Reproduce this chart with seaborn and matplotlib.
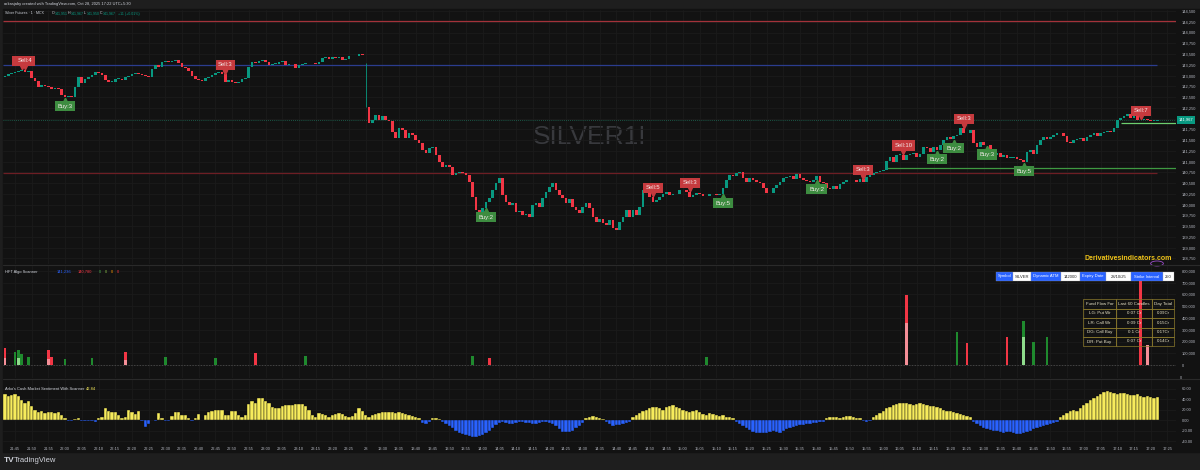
import matplotlib
matplotlib.use("Agg")
import matplotlib.pyplot as plt
import matplotlib.transforms as mtransforms
import numpy as np
import pandas as pd
import seaborn as sns

sns.set_theme(style="dark")
plt.rcParams["font.family"] = ["Liberation Sans", "DejaVu Sans"]

W, H = 1200, 470
BG = "#121212"
FRAME = "#1e1e1e"
TXT = "#b2b5be"
UP = "#089981"
DOWN = "#f23645"

# ---- data ----
day1_close = [
    142990, 143035, 143060, 143080, 143105, 143130, 143080, 143105, 142945, 142875,
    142735, 142780, 142755, 142735, 142690, 142710, 142690, 142550, 142500, 142525,
    142500, 142735, 142965, 142825, 142920, 142965, 143015, 143080, 143060, 143015,
    142895, 142850, 142850, 142920, 142920, 142895, 142965, 142990, 143035, 143060,
    143035, 143015, 142990, 142965, 143150, 143245, 143200, 143315, 143340, 143315,
    143340, 143360, 143290, 143200, 143180, 143105, 142990, 142920, 142895, 142875,
    142945, 142965, 143015, 143060, 143080, 143035, 142850, 142895, 142850, 142825,
    142840, 142920, 142945, 143200, 143315, 143290, 143340, 143360, 143315, 143245,
    143270, 143280, 143315, 143340, 143245, 143270, 143260, 143175, 143245, 143270,
    143290, 143285, 143290, 143270, 143315, 143410, 143430, 143385, 143430, 143410,
    143430, 143360, 143385, 143455, 143445, 143455, 143500, 143475,
]
day2_close = [
    142280,
    141900, 141965, 142085, 141965, 142060, 141965, 141945, 141690, 141550, 141780,
    141735, 141550, 141665, 141620, 141505, 141435, 141270, 141200, 141315, 141340,
    141155, 140990, 140875, 140920, 140875, 140690, 140735, 140760, 140735, 140690,
    140525, 140180, 139875, 139805, 139925, 140065, 140155, 140340, 140505, 140620,
    140225, 140065, 139995, 140040, 139830, 139855, 139760, 139785, 139715, 139995,
    140040, 139945, 140155, 140295, 140410, 140505, 140340, 140225, 140155, 140040,
    140130, 139945, 139875, 139805, 139945, 140040, 139925, 139715, 139600, 139670,
    139575, 139530, 139645, 139460, 139410, 139600, 139715, 139875, 139715, 139875,
    139760, 139945, 140340, 140295, 140180, 140065, 140110, 140180, 140250, 140295,
    140225, 140250, 140240, 140340, 140335, 140295, 140180, 140225, 140270, 140250,
    140200, 140205, 140250, 140245, 140225, 140250, 140390, 140575, 140690, 140665,
    140735, 140760, 140620, 140525,
    140620, 140575, 140525, 140505, 140390, 140270, 140280, 140390, 140455, 140525,
    140620, 140645, 140665, 140595, 140715, 140620, 140575, 140550, 140525, 140575,
    140665, 140525, 140505, 140390, 140365, 140435, 140365, 140480, 140525, 140575,
    140570, 140580, 140525, 140595, 140525, 140645, 140690, 140735, 140760, 140785,
    140805, 141015, 141110, 140990, 141155, 141160, 141040, 141155, 141180, 141200,
    141110, 141180, 141340, 141315, 141225, 141340, 141270, 141385, 141505, 141570,
    141525, 141595, 141620, 141780, 141665, 141660, 141735, 141435, 141340, 141455,
    141385, 141380, 141270, 141155, 141200, 141110, 141155, 141085, 141090, 141110,
    141060, 141040, 140990, 141225, 141270, 141180, 141385, 141505, 141570, 141525,
    141570, 141620, 141665, 141670, 141595, 141455, 141435, 141505, 141525, 141550,
    141480, 141570, 141620, 141665, 141595, 141665, 141690, 141710, 141690, 141780,
    141965, 142015, 142060, 142105, 142015, 142060, 141965, 141970, 141990, 141965,
    141945, 141950, 141967,
]
first_open = 142975
gap_open = 142265
gap_high = 143290
last_price = 141967

sentiment = [
    50, 46, 47, 49, 46, 39, 33, 37, 27, 19,
    15, 17, 14, 15, 15, 13, 15, 9, 4, -1,
    -1, 1, 4, -1, -1, -1, -1, -3, 3, 6,
    22, 17, 15, 15, 9, 4, 6, 19, 15, 11,
    17, -1, -13, -7, 0.5, -2, 14, 4, -1, -2,
    8, 16, 16, 9, 9, 4, -1, 4, 11, 0.5,
    9, 15, 18, 20, 20, 20, 9, 9, 17, 18,
    9, 6, 9, 30, 37, 33, 41, 42, 37, 33,
    25, 22, 22, 27, 28, 28, 28, 30, 31, 30,
    27, 20, 9, 6, 14, 11, 9, 6, 9, 12,
    14, 11, 8, 6, 8, 13, 23, 17, 9, 6,
    9, 12, 14, 16, 15, 16, 15, 14,
    15, 13, 12, 10, 8, 6, 3,
    -5, -8, -4,
    4, 3, 2,
    -4, -8, -12, -16, -20, -24, -27, -29, -31, -32, -32, -30, -28, -24, -20, -15, -10,
    -6, -4, -5, -7, -8, -6, -4, -3, -5, -6, -8, -7, -5, -4, -3, -5, -8,
    -12, -18, -22, -23, -22, -20, -16, -12, -6,
    3, 5, 8, 6, 4, 2,
    -4, -8, -11, -10, -9, -7, -5, -3,
    5, 10, 14, 18, 20, 22, 24, 25, 22, 20, 24, 26, 28, 25, 22, 20, 18, 15, 18, 20,
    16, 12, 10, 14, 12, 10, 8, 9, 6, 5, 3,
    -4, -8, -12, -16, -19, -22, -24, -25, -25, -24, -22, -20, -22, -24, -21, -18, -16, -14,
    -12, -10, -9, -8, -7, -6, -5, -4, -3,
    3, 5, 6, 5, 4, 6, 8, 7, 5, 4, 3,
    -2, -3, -2,
    6, 10, 14, 18, 22, 25, 28, 30, 32, 33, 32, 30, 29, 31, 33, 30, 28, 26, 27, 25,
    22, 20, 18, 17, 15, 14, 12, 10, 8, 5,
    -4, -8, -12, -15, -17, -19, -20, -21, -22, -24, -23, -22, -24, -26, -27, -25, -22, -20,
    -18, -16, -14, -12, -10, -8, -5, -3,
    5, 10, 14, 18, 20, 18, 22, 28, 33, 38, 42, 46, 50, 53, 55, 54, 52, 50, 52, 51,
    49, 47, 48, 50, 46, 44, 45, 44, 42, 43,
]
sentiment_last = "42.84"

# volume scanner bars: bar index, total height, lighter lower part, side
vol_bar = [0, 3, 4, 5, 7, 13, 14, 18, 26, 36, 48, 63, 75, 90, 140, 145, 210, 270, 285, 288,
           300, 305, 308, 312, 340, 342]
vol_value = [145000, 110000, 130000, 95000, 70000, 130000, 70000, 50000, 60000, 110000,
             70000, 60000, 100000, 80000, 80000, 60000, 70000, 596000, 280000, 190000,
             240000, 375000, 195000, 240000, 740000, 170000]
vol_base = [60000, 0, 60000, 0, 0, 50000, 0, 0, 0, 40000,
            0, 0, 0, 0, 0, 0, 0, 360000, 0, 0,
            0, 240000, 0, 0, 0, 170000]
vol_side = ["sell", "buy", "buy", "buy", "buy", "sell", "sell", "buy", "buy", "sell",
            "buy", "buy", "sell", "buy", "buy", "sell", "buy", "sell", "buy", "sell",
            "sell", "buy", "buy", "buy", "sell", "sell"]
hft_values = ["141,236", "140,780", "0", "0", "0", "0"]
hft_colors = ["#2962ff", "#f23645", "#4caf50", "#8bc34a", "#ff9800", "#f23645"]

# signal labels: bar, side, count
sig_bar = [5, 6, 18, 66, 144, 194, 205, 215, 243, 257, 269, 279, 284, 287, 294, 305, 340]
sig_side = ["Sell", "Sell", "Buy", "Sell", "Buy", "Sell", "Sell", "Buy", "Buy", "Sell",
            "Sell", "Buy", "Buy", "Sell", "Buy", "Buy", "Sell"]
sig_count = [4, 4, 3, 3, 2, 5, 3, 5, 2, 3, 10, 2, 2, 3, 3, 5, 7]

# horizontal levels: price, start bar (None = left edge), end bar (None = right edge)
lvl_price = [144265, 143245, 140735, 140855, 141890]
lvl_start = [None, None, None, 264, 334]
lvl_end = [None, 345, 345, None, None]
lvl_color = ["#a3323a", "#2b3d8f", "#6d1e24", "#3f9a42", "#6ccf6f"]

price_ticks = list(range(144500, 138500, -250))
vol_ticks = list(range(0, 900000, 100000))
sent_ticks = [60, 40, 20, 0, -20, -40]

day1_start, day2_start = "2025-10-27 21:42", "2025-10-28 13:25"

ohlc_letters = ["O", "H", "L", "C"]
ohlc_values = ["141,951", "141,967", "141,950", "141,967"]
ohlc_change = "+11 (+0.01%)"

fund_rows = [
    ["Fund Flow For", "Last 60 Candles", "Day Total"],
    ["LG: Put Wr", "0.07 Cr", "0.09Cr"],
    ["LR: Call Wr", "0.09 Cr", "0.15Cr"],
    ["DG: Call Buy", "0.1 Cr", "0.17Cr"],
    ["DR: Put Buy", "0.07 Cr", "0.14Cr"],
]
info_cells = ["Symbol", "SILVER", "Dynamic ATM", "142000", "Expiry Date", "28/10/25",
              "Strike Interval", "250"]

# ---- derived frame ----
closes = day1_close + day2_close
n1 = len(day1_close)
times = list(pd.date_range(day1_start, periods=n1, freq="min")) + \
    list(pd.date_range(day2_start, periods=len(day2_close) + 3, freq="min"))
opens = [first_open] + closes[:-1]
opens[n1] = gap_open
df = pd.DataFrame({"bar": np.arange(len(closes)), "open": opens, "close": closes})
df["lo"] = df[["open", "close"]].min(axis=1)
df["hi"] = df[["open", "close"]].max(axis=1)
df["body"] = (df["hi"] - df["lo"]).clip(lower=12)
df["color"] = np.where(df["close"] >= df["open"], UP, DOWN)

XLIM = (-0.6, 350.6)
SMALL = 2.9


def fx(px):
    return px / W


def fy(py):
    return 1 - py / H


def pane(y0, y1):
    return fig.add_axes([fx(3), fy(y1), fx(1176 - 3), (y1 - y0) / H])


fig = plt.figure(figsize=(W / 100, H / 100), dpi=100, facecolor=FRAME)
fig.patches.append(plt.Rectangle((fx(3), fy(452)), 1, (452 - 9) / H,
                                 transform=fig.transFigure, color=BG, zorder=-5))

ax_p = pane(10, 264)
ax_v = pane(265, 378)
ax_s = pane(379, 443)

# time ticks every 5 minutes
tick_pos, tick_lab = [], []
for k, t in enumerate(times):
    if k == n1:
        tick_pos.append(k)
        tick_lab.append("28")
    elif t.minute % 5 == 0:
        tick_pos.append(k)
        tick_lab.append(t.strftime("%H:%M"))

for ax in (ax_p, ax_v, ax_s):
    ax.set_facecolor(BG)
    for s in ax.spines.values():
        s.set_visible(False)
    ax.yaxis.tick_right()
    ax.tick_params(axis="y", length=0, labelsize=SMALL, labelcolor=TXT, pad=4)
    ax.tick_params(axis="x", length=0, labelsize=2.9, labelcolor=TXT, pad=3)

# ---- price pane ----
ax_p.bar(df["bar"], df["body"], bottom=df["lo"], width=0.8, color=df["color"], linewidth=0, zorder=3)
ax_p.vlines(n1, df.loc[n1, "hi"], gap_high, color=UP, lw=0.6, zorder=3)
ax_p.set_ylim(138622, 144523)
ax_p.set_yticks(price_ticks)
ax_p.set_yticklabels([f"{p:,}" if abs(p - last_price) > 60 else "" for p in price_ticks])
ax_p.text(0.5, 0.5, "SILVER1!", transform=ax_p.transAxes, ha="center", va="center",
          fontsize=19, color="#38393d", zorder=0)

ax_p.axhline(last_price, color="#1c6b55", lw=0.6, ls=(0, (1, 1.5)), zorder=1)
for p, s, e, c in zip(lvl_price, lvl_start, lvl_end, lvl_color):
    x0 = XLIM[0] if s is None else s
    x1 = XLIM[1] if e is None else e
    ax_p.hlines(p, x0, x1, color=c, lw=0.9, zorder=2)

blend = mtransforms.blended_transform_factory(ax_p.transAxes, ax_p.transData)
ax_p.text(1.0025, last_price, f"{last_price:,}", transform=blend, ha="left", va="center",
          fontsize=SMALL, color="white", clip_on=False, zorder=8,
          bbox=dict(boxstyle="square,pad=0.45", fc=UP, ec="none"))

for b, side, cnt in zip(sig_bar, sig_side, sig_count):
    row = df.loc[b]
    if side == "Sell":
        tip, off, mk, col = row["hi"], 1, "v", "#c63a3e"
    else:
        tip, off, mk, col = row["lo"], -1, "^", "#3d8c40"
    tr = mtransforms.offset_copy(ax_p.transData, fig=fig, x=0, y=off * 1.8, units="points")
    ax_p.plot(b, tip, marker=mk, ms=3.2, color=col, transform=tr, zorder=5, clip_on=False)
    ax_p.annotate(f"{side}:{cnt}", xy=(b, tip), xytext=(0, off * 6.6), textcoords="offset points",
                  ha="center", va="center", fontsize=4.2, color="#f4eaea", zorder=6,
                  bbox=dict(boxstyle="square,pad=0.45", fc=col, ec="none"))

# ---- volume pane ----
vol = pd.DataFrame({"bar": vol_bar, "value": vol_value, "base": vol_base, "side": vol_side})
dark = vol["side"].map({"buy": "#1f8a2e", "sell": "#f23645"})
light = vol["side"].map({"buy": "#8fdc8c", "sell": "#f58f98"})
ax_v.bar(vol["bar"], vol["value"], width=0.8, color=dark, linewidth=0, zorder=3)
ax_v.bar(vol["bar"], vol["base"], width=0.8, color=light, linewidth=0, zorder=4)
ax_v.set_ylim(-110600, 851000)
ax_v.set_yticks(vol_ticks)
ax_v.set_yticklabels([f"{v:,}" for v in vol_ticks])
ax_v.axhline(0, color="#555555", lw=0.5, ls=(0, (2, 2)))

# ---- sentiment pane ----
sent = pd.DataFrame({"bar": np.arange(len(sentiment)), "value": sentiment})
sent["sign"] = np.where(sent["value"] >= 0, "pos", "neg")
sns.barplot(data=sent, x="bar", y="value", hue="sign", native_scale=True, dodge=False,
            palette={"pos": "#f7ec5c", "neg": "#2962ff"}, width=1.0, saturation=1,
            legend=False, ax=ax_s, edgecolor="#111111", linewidth=0.3)
ax_s.set_ylim(-43.8, 78.1)
ax_s.set_yticks(sent_ticks)
ax_s.set_yticklabels([f"{v:.2f}" for v in sent_ticks])

for ax in (ax_p, ax_v, ax_s):
    ax.set_xlim(*XLIM)
    ax.set_xticks(tick_pos)
    ax.set_xticklabels(tick_lab if ax is ax_s else [])
    ax.xaxis.grid(True, color="#1b1b1b", lw=0.6)
    ax.yaxis.grid(True, color="#1b1b1b", lw=0.6)
    ax.set_axisbelow(True)
    ax.set_xlabel("")
    ax.set_ylabel("")

# pane separators
for py in (264.5, 378.5):
    fig.add_artist(plt.Line2D([fx(3), 1], [fy(py), fy(py)], color="#2a2a2a", lw=0.8))

# ---- header texts ----
fig.text(fx(4), fy(4.5), "arkasjaby created with TradingView.com, Oct 28, 2025 17:22 UTC+5:30",
         fontsize=SMALL, color="#d1d4dc", va="center")
fig.text(fx(5), fy(13.5), "Silver Futures · 1 · MCX", fontsize=2.6, color="#d1d4dc", va="center")
for k, (letter, val) in enumerate(zip(ohlc_letters, ohlc_values)):
    px = 52 + 16 * k
    fig.text(fx(px), fy(13.5), letter, fontsize=2.6, color="#d1d4dc", va="center")
    fig.text(fx(px + 2.6), fy(13.5), val, fontsize=2.6, color=UP, va="center")
fig.text(fx(118), fy(13.5), ohlc_change, fontsize=2.6, color=UP, va="center")

fig.text(fx(5), fy(272), "HFT Algo Scanner", fontsize=SMALL, color="#d1d4dc", va="center")
hx = [57, 78, 99, 105, 111, 117]
for val, c, px in zip(hft_values, hft_colors, hx):
    fig.text(fx(px), fy(272), val, fontsize=SMALL, color=c, va="center")

fig.text(fx(5), fy(388.5), "Arko's Cash Market Sentiment With Scanner", fontsize=SMALL,
         color="#d1d4dc", va="center")
fig.text(fx(86), fy(388.5), sentiment_last, fontsize=SMALL, color="#f7ec5c", va="center")
fig.text(fx(4), fy(461), "TV", fontsize=6, color="#d1d4dc", va="center", weight="bold")
fig.text(fx(14), fy(461), "TradingView", fontsize=5.5, color="#d1d4dc", va="center")
fig.text(fx(1172), fy(259), "Derivativesindicators.com", fontsize=5.0, color="#f0c419",
         va="center", ha="right", weight="bold")
fig.add_artist(plt.Circle((fx(1157), fy(263.5)), 2.5 / H, transform=fig.transFigure,
                          fc="none", ec="#9c4dcc", lw=0.6))
fig.text(fx(1179.5), fy(378), "0", fontsize=SMALL, color=TXT, va="center", ha="left")

# info strip
edges = [996, 1013, 1031, 1061, 1080, 1106, 1131, 1163, 1174]
for k, label in enumerate(info_cells):
    x0, x1 = edges[k], edges[k + 1]
    blue = k % 2 == 0
    fig.patches.append(plt.Rectangle((fx(x0), fy(281)), fx(x1 - x0), 9 / H,
                                     transform=fig.transFigure,
                                     fc="#2962ff" if blue else "white", ec="#999999", lw=0.2))
    fig.text(fx((x0 + x1) / 2), fy(276.5), label, fontsize=3.0, ha="center", va="center",
             color="white" if blue else "#222222")

# fund flow table
cols = [1083, 1116, 1152, 1174]
rows_y = [299, 308.5, 318, 327.5, 337, 346]
for r, row in enumerate(fund_rows):
    for c, cell in enumerate(row):
        x0, x1 = cols[c], cols[c + 1]
        y0, y1 = rows_y[r], rows_y[r + 1]
        fig.patches.append(plt.Rectangle((fx(x0), fy(y1)), fx(x1 - x0), (y1 - y0) / H,
                                         transform=fig.transFigure, fc="none", ec="#8c7a2c", lw=0.5))
        fig.text(fx((x0 + x1) / 2), fy((y0 + y1) / 2), cell, fontsize=3.2, ha="center",
                 va="center", color="#e9e4c9")

fig.savefig("out.png", dpi=100, facecolor=FRAME)
